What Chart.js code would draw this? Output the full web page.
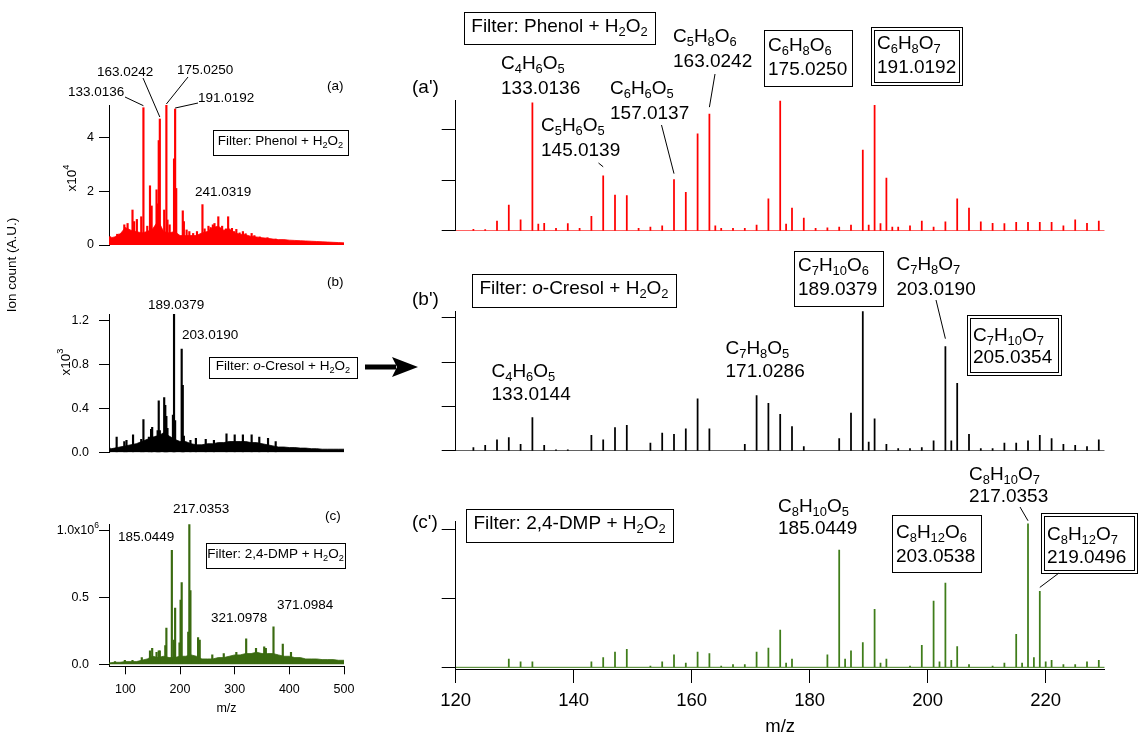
<!DOCTYPE html>
<html>
<head>
<meta charset="utf-8">
<script src="https://cdn.jsdelivr.net/npm/chart.js@4.4.0/dist/chart.umd.min.js"></script>
<style>
html, body { margin: 0; padding: 0; background: #fff; }
#page { position: relative; width: 1139px; height: 740px; overflow: hidden; background: #fff; }
#page canvas { position: absolute; }
</style>
</head>
<body>
<div id="page"></div>
<script>
// ---- data: overview spectra (left, m/z 70-500) ----
const ENV_MZ = [70,80,90,100,110,120,130,140,150,160,170,180,190,200,210,220,230,240,250,260,270,280,290,300,310,320,330,340,350,360,370,380,390,400,410,420,430,440,450,460,470,480,490,500];
const ENV_A = [0.25,0.3,0.4,0.65,0.55,0.5,0.45,0.5,0.6,0.9,0.5,0.45,0.5,0.35,0.35,0.35,0.35,0.45,0.5,0.65,0.7,0.55,0.6,0.45,0.4,0.38,0.32,0.3,0.27,0.25,0.22,0.2,0.2,0.18,0.17,0.16,0.15,0.14,0.13,0.12,0.11,0.1,0.09,0.08];
const ENV_B = [0.03,0.04,0.05,0.06,0.07,0.08,0.1,0.12,0.14,0.15,0.18,0.15,0.12,0.1,0.1,0.08,0.07,0.07,0.08,0.08,0.09,0.09,0.1,0.1,0.1,0.1,0.09,0.09,0.08,0.07,0.06,0.05,0.05,0.045,0.045,0.04,0.04,0.035,0.035,0.03,0.03,0.03,0.03,0.03];
const ENV_C = [0.01,0.015,0.015,0.02,0.02,0.02,0.03,0.04,0.06,0.05,0.06,0.05,0.05,0.06,0.06,0.07,0.06,0.04,0.04,0.04,0.05,0.05,0.06,0.07,0.07,0.08,0.08,0.09,0.08,0.08,0.08,0.07,0.06,0.06,0.05,0.05,0.04,0.04,0.04,0.035,0.035,0.035,0.03,0.03];

const PEAK_MZ_A = [72,85,89,98,104,113,116,121,129,133,140,145,148,157,159,161,163,171,175,177,181,189,191,193,205,207,212,217,224,231,241,245,252,256,260,263,270,273,277,284,288,295,299,303,309,315,320,331,336,346,360,375];
const PEAK_A = [0.31,0.4,0.41,0.75,0.8,1.3,0.87,0.95,1.05,5.1,0.7,2.2,1.45,2.05,1.53,3.88,4.68,1.3,5.2,0.93,0.75,3.2,5.05,2.1,1.27,0.87,0.56,0.5,0.43,0.5,1.5,0.6,0.7,0.65,0.75,0.8,1.05,0.62,0.7,0.6,1.05,0.62,0.5,0.58,0.45,0.5,0.42,0.43,0.35,0.3,0.27,0.22];
const PEAK_MZ_B = [71,84,98,102,114,129,133,143,147,149,157,159,161,163,171,173,175,177,187,189,191,203,205,207,219,229,247,262,285,300,315,331,345,361,375];
const PEAK_B = [0.04,0.14,0.1,0.11,0.16,0.12,0.3,0.14,0.21,0.23,0.15,0.2,0.47,0.2,0.5,0.43,0.33,0.22,0.34,1.26,0.29,0.94,0.61,0.15,0.11,0.13,0.12,0.11,0.17,0.16,0.16,0.16,0.14,0.13,0.1];
const PEAK_MZ_C = [81,99,113,130,145,149,157,161,163,173,175,185,189,191,199,201,203,215,217,219,233,236,259,280,303,321,339,354,357,371,388,403];
const PEAK_C = [0.02,0.03,0.03,0.05,0.1,0.12,0.09,0.1,0.1,0.14,0.27,0.85,0.18,0.42,0.16,0.48,0.61,0.24,1.045,0.55,0.2,0.18,0.07,0.08,0.09,0.19,0.12,0.13,0.12,0.28,0.15,0.09];

// ---- data: zoomed spectra (right, m/z 120-230) ----
const MZ_A2 = [123,125,127,129,131,133,134,135,137,139,141,143,145,147,149,151,153,155,157,159,161,163,164,165,167,169,171,173,175,176,177,179,181,183,185,187,189,190,191,192,193,194,195,197,199,201,203,205,207,209,211,213,215,217,219,221,223,225,227,229];
const INT_A2 = [0.06,0.05,0.39,1.02,0.44,5.05,0.27,0.3,0.1,0.29,0.1,0.57,2.17,1.41,1.39,0.1,0.15,0.2,2.02,1.52,3.82,4.6,0.2,0.1,0.1,0.1,0.23,1.26,5.14,0.27,0.9,0.51,0.1,0.12,0.15,0.23,3.18,0.23,4.95,0.29,2.08,0.15,0.15,0.2,0.39,0.15,0.36,1.26,0.9,0.36,0.3,0.29,0.34,0.34,0.34,0.34,0.2,0.44,0.3,0.39];
const MZ_B2 = [123,125,127,129,131,133,135,137,139,143,145,147,149,153,155,157,159,161,163,169,171,173,175,177,179,185,187,189,190,191,193,195,197,199,201,203,204,205,207,209,211,213,215,217,219,221,223,225,227,229];
const INT_B2 = [0.03,0.05,0.1,0.12,0.06,0.3,0.05,0.01,0.01,0.14,0.1,0.21,0.23,0.07,0.16,0.15,0.2,0.47,0.2,0.06,0.5,0.43,0.33,0.22,0.04,0.11,0.34,1.26,0.08,0.29,0.06,0.02,0.02,0.03,0.09,0.94,0.09,0.61,0.15,0.02,0.02,0.07,0.07,0.09,0.14,0.11,0.06,0.05,0.04,0.1];
const MZ_C2 = [129,131,133,143,145,147,149,153,155,157,159,161,163,165,167,169,171,173,175,176,177,183,185,186,187,189,191,192,193,197,199,201,202,203,204,205,207,211,213,215,216,217,218,219,220,221,223,225,227,229];
const INT_C2 = [0.06,0.04,0.04,0.04,0.07,0.11,0.13,0.01,0.04,0.09,0.03,0.11,0.1,0.01,0.02,0.02,0.11,0.14,0.27,0.03,0.06,0.09,0.85,0.06,0.12,0.18,0.42,0.03,0.06,0.01,0.16,0.48,0.04,0.61,0.05,0.15,0.02,0.01,0.03,0.24,0.03,1.04,0.07,0.55,0.04,0.05,0.02,0.02,0.04,0.05];

// ---- axes ----
const LEFT_RANGE = [70, 500];
const RIGHT_RANGE = [120, 230];
const TICKS_LEFT_X = [100, 200, 300, 400, 500];
const TICKS_RIGHT_X = [120, 140, 160, 180, 200, 220];
const TICKS_A = [0, 2, 4];
const TICKS_B = [0, 0.4, 0.8, 1.2];
const TICKS_C = [0, 0.5, 1.0];
const TICKS_A2 = [0, 2, 4];
const TICKS_B2 = [0, 0.2, 0.4, 0.6, 0.8, 1.0, 1.2];
const TICKS_C2 = [0, 0.5, 1.0];

const FONT = '"Liberation Sans", Arial, sans-serif';
const RED = '#ff0000';
const BLACK = '#000000';
const GREEN_L = '#3a6a10';
const GREEN_R = '#3f7d1a';

// split "C_{4}H_{6}", "x10^{4}", "~{o}-Cresol" into styled runs
function richParts(s) {
    const parts = [];
    const re = /([_^~])\{([^}]*)\}/g;
    let last = 0, m;
    while ((m = re.exec(s))) {
        if (m.index > last) parts.push({ t: s.slice(last, m.index), k: '' });
        parts.push({ t: m[2], k: m[1] });
        last = re.lastIndex;
    }
    if (last < s.length) parts.push({ t: s.slice(last), k: '' });
    return parts;
}

function drawRich(ctx, s, x, y, size, align) {
    const parts = richParts(s);
    const fontOf = p => (p.k === '~' ? 'italic ' : '') +
        (p.k === '_' || p.k === '^' ? size * 0.68 : size) + 'px ' + FONT;
    let w = 0;
    parts.forEach(p => { ctx.font = fontOf(p); p.w = ctx.measureText(p.t).width; w += p.w; });
    let cx = align === 'center' ? x - w / 2 : align === 'right' ? x - w : x;
    ctx.textAlign = 'left';
    ctx.textBaseline = 'middle';
    ctx.fillStyle = BLACK;
    parts.forEach(p => {
        ctx.font = fontOf(p);
        const dy = p.k === '_' ? size * 0.3 : p.k === '^' ? -size * 0.38 : 0;
        ctx.fillText(p.t, cx, y + dy);
        cx += p.w;
    });
}

// labels, boxes, leader lines and the arrow (page coordinates; peaks via scales)
function notes(items, box) {
    return {
        id: 'notes',
        afterDraw(chart) {
            const ctx = chart.ctx;
            const xs = chart.scales.x, ys = chart.scales.y;
            ctx.save();
            ctx.strokeStyle = BLACK;
            ctx.fillStyle = BLACK;
            ctx.lineWidth = 1;
            items.forEach(it => {
                if (it.t === 'text') {
                    const x = it.x - box.x;
                    const y = it.v !== undefined ? ys.getPixelForValue(it.v) : it.y - box.y;
                    if (it.rot) {
                        ctx.save();
                        ctx.translate(x, y);
                        ctx.rotate(-Math.PI / 2);
                        drawRich(ctx, it.s, 0, 0, it.size, 'center');
                        ctx.restore();
                    } else {
                        drawRich(ctx, it.s, x, y, it.size, it.align || 'left');
                    }
                } else if (it.t === 'box') {
                    const x = Math.round(it.x - box.x) + 0.5, y = Math.round(it.y - box.y) + 0.5;
                    ctx.strokeRect(x, y, Math.round(it.w), Math.round(it.h));
                    if (it.dbl) ctx.strokeRect(x + 3, y + 3, Math.round(it.w) - 6, Math.round(it.h) - 6);
                } else if (it.t === 'lead') {
                    ctx.beginPath();
                    ctx.moveTo(it.x - box.x, it.y - box.y);
                    ctx.lineTo(xs.getPixelForValue(it.mz), ys.getPixelForValue(it.v) - it.gap);
                    ctx.stroke();
                } else if (it.t === 'arrow') {
                    const x1 = it.x1 - box.x, x2 = it.x2 - box.x, y = it.y - box.y;
                    ctx.fillRect(x1, y - 2.5, (x2 - 22) - x1, 5);
                    ctx.beginPath();
                    ctx.moveTo(x2, y);
                    ctx.lineTo(x2 - 26, y - 10);
                    ctx.lineTo(x2 - 21, y);
                    ctx.lineTo(x2 - 26, y + 10);
                    ctx.closePath();
                    ctx.fill();
                }
            });
            ctx.restore();
        }
    };
}

function spikes(mz, vals, color, thick) {
    return {
        type: 'bar',
        data: mz.map((x, i) => ({ x: x, y: vals[i] })),
        backgroundColor: color,
        borderWidth: 0,
        barThickness: thick,
        grouped: false,
        order: 1
    };
}

function envelope(mz, vals, color) {
    return {
        type: 'line',
        data: mz.map((x, i) => ({ x: x, y: vals[i] })),
        borderColor: color,
        backgroundColor: color,
        borderWidth: 0.8,
        fill: 'origin',
        pointRadius: 0,
        tension: 0,
        order: 2
    };
}

function baseline(range, color) {
    return {
        type: 'line',
        data: range.map(x => ({ x: x, y: 0 })),
        borderColor: color,
        borderWidth: 1,
        pointRadius: 0,
        fill: false,
        order: 0
    };
}

function panel(p) {
    const canvas = document.createElement('canvas');
    canvas.width = p.box.w;
    canvas.height = p.box.h;
    canvas.style.left = p.box.x + 'px';
    canvas.style.top = p.box.y + 'px';
    canvas.style.width = p.box.w + 'px';
    canvas.style.height = p.box.h + 'px';
    document.getElementById('page').appendChild(canvas);

    const xH = p.xTicks ? p.xH : 0;
    const pad = {
        left: p.area.l - p.box.x - p.yW,
        right: p.box.x + p.box.w - p.area.r,
        top: p.area.t - p.box.y,
        bottom: p.box.y + p.box.h - p.area.b - xH
    };
    const tickFont = { family: FONT, size: p.tickSize, lineHeight: 1.2 };

    return new Chart(canvas, {
        type: 'bar',
        data: { datasets: p.datasets },
        options: {
            responsive: false,
            animation: false,
            devicePixelRatio: 1,
            layout: { padding: pad },
            plugins: { legend: { display: false }, tooltip: { enabled: false } },
            scales: {
                x: {
                    type: 'linear',
                    min: p.xRange[0],
                    max: p.xRange[1],
                    offset: false,
                    display: !!p.xTicks,
                    afterFit: s => { s.height = xH; },
                    afterBuildTicks: s => { if (p.xTicks) s.ticks = p.xTicks.map(v => ({ value: v })); },
                    grid: { offset: false, drawOnChartArea: false, drawTicks: true, tickLength: p.xTickLen || 8, color: BLACK },
                    border: { display: true, color: BLACK, width: 1 },
                    ticks: { color: BLACK, font: tickFont, padding: p.xPad || 6, maxRotation: 0, autoSkip: false },
                    title: { display: true, text: 'm/z', color: BLACK, font: tickFont, padding: 0 }
                },
                y: {
                    type: 'linear',
                    min: p.yRange[0],
                    max: p.yRange[1],
                    afterFit: s => { s.width = p.yW; },
                    afterBuildTicks: s => { s.ticks = p.yTicks.map(v => ({ value: v })); },
                    grid: { drawOnChartArea: false, drawTicks: true, tickLength: p.yTickLen, color: BLACK },
                    border: { display: true, color: BLACK, width: 1 },
                    ticks: { color: BLACK, font: tickFont, padding: p.yPad || 8, callback: p.yLabel }
                }
            }
        },
        plugins: [notes(p.notes, p.box)]
    });
}

const L = 13.5;   // left annotation size
const R = 19;     // right annotation size

// (a) phenol overview
panel({
    box: { x: 0, y: 0, w: 380, h: 260 },
    area: { l: 109, r: 344, t: 105, b: 245 },
    yW: 45, yTickLen: 10, yPad: 5, tickSize: 12.5,
    xRange: LEFT_RANGE, yRange: [0, 5.2], yTicks: TICKS_A,
    yLabel: v => String(v),
    datasets: [envelope(ENV_MZ, ENV_A, RED), spikes(PEAK_MZ_A, PEAK_A, RED, 1.5)],
    notes: [
        { t: 'text', s: '133.0136', x: 68, y: 92, size: L },
        { t: 'lead', x: 125, y: 97, mz: 133, v: 5.1, gap: 2 },
        { t: 'text', s: '163.0242', x: 97, y: 72, size: L },
        { t: 'lead', x: 143, y: 78, mz: 163, v: 4.68, gap: 2 },
        { t: 'text', s: '175.0250', x: 177, y: 70, size: L },
        { t: 'lead', x: 188, y: 77, mz: 175, v: 5.2, gap: 1 },
        { t: 'text', s: '191.0192', x: 198, y: 98, size: L },
        { t: 'lead', x: 198, y: 103, mz: 191, v: 5.05, gap: 1 },
        { t: 'text', s: '241.0319', x: 195, y: 192, size: L },
        { t: 'text', s: '(a)', x: 327, y: 86, size: L },
        { t: 'box', x: 213, y: 130, w: 135, h: 25 },
        { t: 'text', s: 'Filter: Phenol + H_{2}O_{2}', x: 280.5, y: 141.5, size: L, align: 'center' },
        { t: 'text', s: 'x10^{4}', x: 72, y: 178, size: L, rot: true }
    ]
});

// (b) o-cresol overview
panel({
    box: { x: 0, y: 190, w: 430, h: 280 },
    area: { l: 109, r: 344, t: 314, b: 454 },
    yW: 45, yTickLen: 10, yPad: 10, tickSize: 12.5,
    xRange: LEFT_RANGE, yRange: [0, 1.26], yTicks: TICKS_B,
    yLabel: v => v.toFixed(1),
    datasets: [envelope(ENV_MZ, ENV_B, BLACK), spikes(PEAK_MZ_B, PEAK_B, BLACK, 1.5)],
    notes: [
        { t: 'text', s: '189.0379', x: 148, y: 305, size: L },
        { t: 'text', s: '203.0190', x: 182, y: 335, size: L },
        { t: 'text', s: '(b)', x: 327, y: 282, size: L },
        { t: 'box', x: 209, y: 357, w: 148, h: 21 },
        { t: 'text', s: 'Filter: ~{o}-Cresol + H_{2}O_{2}', x: 283, y: 366.5, size: L, align: 'center' },
        { t: 'text', s: 'x10^{3}', x: 66, y: 362, size: L, rot: true },
        { t: 'text', s: 'Ion count (A.U.)', x: 12, y: 265, size: L, rot: true },
        { t: 'arrow', x1: 365, x2: 418, y: 367 }
    ]
});

// (c) 2,4-DMP overview
panel({
    box: { x: 0, y: 470, w: 380, h: 270 },
    area: { l: 109, r: 344, t: 524.3, b: 666.3 },
    yW: 45, yTickLen: 10, yPad: 10, tickSize: 12.5,
    xH: 50, xTickLen: 8, xPad: 8, xTicks: TICKS_LEFT_X,
    xRange: LEFT_RANGE, yRange: [-0.015, 1.045], yTicks: TICKS_C,
    yLabel: v => (v === 1 ? '' : v.toFixed(1)),
    datasets: [envelope(ENV_MZ, ENV_C, GREEN_L), spikes(PEAK_MZ_C, PEAK_C, GREEN_L, 1.5)],
    notes: [
        { t: 'text', s: '217.0353', x: 173, y: 509, size: L },
        { t: 'text', s: '185.0449', x: 118, y: 537, size: L },
        { t: 'text', s: '321.0978', x: 211, y: 618, size: L },
        { t: 'text', s: '371.0984', x: 277, y: 605, size: L },
        { t: 'text', s: '(c)', x: 325, y: 516, size: L },
        { t: 'box', x: 206, y: 543, w: 139, h: 25 },
        { t: 'text', s: 'Filter: 2,4-DMP + H_{2}O_{2}', x: 275.5, y: 554.5, size: L, align: 'center' },
        { t: 'text', s: '1.0x10^{6}', x: 99, v: 1.0, size: 12.5, align: 'right' }
    ]
});

// (a') phenol, zoomed
panel({
    box: { x: 400, y: 0, w: 739, h: 250 },
    area: { l: 455.7, r: 1104.7, t: 100.7, b: 241.7 },
    yW: 15, yTickLen: 14, tickSize: 18.5,
    xRange: RIGHT_RANGE, yRange: [0, 5.13], yTicks: TICKS_A2,
    yLabel: () => '',
    datasets: [baseline(RIGHT_RANGE, RED), spikes(MZ_A2, INT_A2, RED, 1.1)],
    notes: [
        { t: 'text', s: "(a')", x: 412, y: 88, size: R },
        { t: 'box', x: 464, y: 12, w: 191, h: 32 },
        { t: 'text', s: 'Filter: Phenol + H_{2}O_{2}', x: 559.5, y: 26.5, size: R, align: 'center' },
        { t: 'text', s: 'C_{4}H_{6}O_{5}', x: 501, y: 64, size: R },
        { t: 'text', s: '133.0136', x: 501, y: 89, size: R },
        { t: 'text', s: 'C_{5}H_{6}O_{5}', x: 541, y: 126, size: R },
        { t: 'text', s: '145.0139', x: 541, y: 151, size: R },
        { t: 'lead', x: 598.5, y: 163, mz: 145, v: 2.17, gap: 9 },
        { t: 'text', s: 'C_{6}H_{6}O_{5}', x: 610, y: 89, size: R },
        { t: 'text', s: '157.0137', x: 610, y: 114, size: R },
        { t: 'lead', x: 661.5, y: 125, mz: 157, v: 2.02, gap: 6 },
        { t: 'text', s: 'C_{5}H_{8}O_{6}', x: 673, y: 37, size: R },
        { t: 'text', s: '163.0242', x: 673, y: 62, size: R },
        { t: 'lead', x: 715, y: 74, mz: 163, v: 4.6, gap: 7 },
        { t: 'box', x: 764, y: 30, w: 88, h: 56 },
        { t: 'text', s: 'C_{6}H_{8}O_{6}', x: 768, y: 46, size: R },
        { t: 'text', s: '175.0250', x: 768, y: 70, size: R },
        { t: 'box', x: 871, y: 27, w: 91, h: 58, dbl: true },
        { t: 'text', s: 'C_{6}H_{8}O_{7}', x: 877, y: 44, size: R },
        { t: 'text', s: '191.0192', x: 877, y: 68, size: R }
    ]
});

// (b') o-cresol, zoomed
panel({
    box: { x: 400, y: 240, w: 739, h: 230 },
    area: { l: 455.7, r: 1104.7, t: 311.2, b: 452.3 },
    yW: 15, yTickLen: 14, tickSize: 18.5,
    xRange: RIGHT_RANGE, yRange: [0, 1.26], yTicks: TICKS_B2,
    yLabel: () => '',
    datasets: [baseline(RIGHT_RANGE, BLACK), spikes(MZ_B2, INT_B2, BLACK, 1.1)],
    notes: [
        { t: 'text', s: "(b')", x: 412, y: 300, size: R },
        { t: 'box', x: 472, y: 274, w: 204, h: 33 },
        { t: 'text', s: 'Filter: ~{o}-Cresol + H_{2}O_{2}', x: 574, y: 289, size: R, align: 'center' },
        { t: 'text', s: 'C_{4}H_{6}O_{5}', x: 491.5, y: 372, size: R },
        { t: 'text', s: '133.0144', x: 491.5, y: 395, size: R },
        { t: 'text', s: 'C_{7}H_{8}O_{5}', x: 725.5, y: 349, size: R },
        { t: 'text', s: '171.0286', x: 725.5, y: 372, size: R },
        { t: 'box', x: 794, y: 251, w: 89, h: 55 },
        { t: 'text', s: 'C_{7}H_{10}O_{6}', x: 798, y: 266, size: R },
        { t: 'text', s: '189.0379', x: 798, y: 290, size: R },
        { t: 'text', s: 'C_{7}H_{8}O_{7}', x: 896.5, y: 265, size: R },
        { t: 'text', s: '203.0190', x: 896.5, y: 290, size: R },
        { t: 'lead', x: 936, y: 300, mz: 203, v: 0.94, gap: 8 },
        { t: 'box', x: 967, y: 315, w: 94, h: 60, dbl: true },
        { t: 'text', s: 'C_{7}H_{10}O_{7}', x: 973, y: 336, size: R },
        { t: 'text', s: '205.0354', x: 973, y: 358, size: R }
    ]
});

// (c') 2,4-DMP, zoomed
panel({
    box: { x: 400, y: 455, w: 739, h: 285 },
    area: { l: 455.7, r: 1104.7, t: 521, b: 669 },
    yW: 15, yTickLen: 14, tickSize: 18.5,
    xH: 69, xTickLen: 14, xPad: 7, xTicks: TICKS_RIGHT_X,
    xRange: RIGHT_RANGE, yRange: [-0.012, 1.06], yTicks: TICKS_C2,
    yLabel: () => '',
    datasets: [baseline(RIGHT_RANGE, GREEN_R), spikes(MZ_C2, INT_C2, GREEN_R, 1.1)],
    notes: [
        { t: 'text', s: "(c')", x: 412, y: 523, size: R },
        { t: 'box', x: 466, y: 509, w: 207, h: 33 },
        { t: 'text', s: 'Filter: 2,4-DMP + H_{2}O_{2}', x: 569.5, y: 524, size: R, align: 'center' },
        { t: 'text', s: 'C_{8}H_{10}O_{5}', x: 778, y: 507, size: R },
        { t: 'text', s: '185.0449', x: 778, y: 529, size: R },
        { t: 'box', x: 892, y: 515, w: 89, h: 57 },
        { t: 'text', s: 'C_{8}H_{12}O_{6}', x: 896, y: 533, size: R },
        { t: 'text', s: '203.0538', x: 896, y: 557, size: R },
        { t: 'text', s: 'C_{8}H_{10}O_{7}', x: 969, y: 475, size: R },
        { t: 'text', s: '217.0353', x: 969, y: 497, size: R },
        { t: 'lead', x: 1020, y: 507, mz: 217, v: 1.04, gap: 3 },
        { t: 'box', x: 1041, y: 513, w: 96, h: 60, dbl: true },
        { t: 'text', s: 'C_{8}H_{12}O_{7}', x: 1047, y: 535, size: R },
        { t: 'text', s: '219.0496', x: 1047, y: 558, size: R },
        { t: 'lead', x: 1059, y: 573, mz: 219, v: 0.55, gap: 4 }
    ]
});
</script>
</body>
</html>
